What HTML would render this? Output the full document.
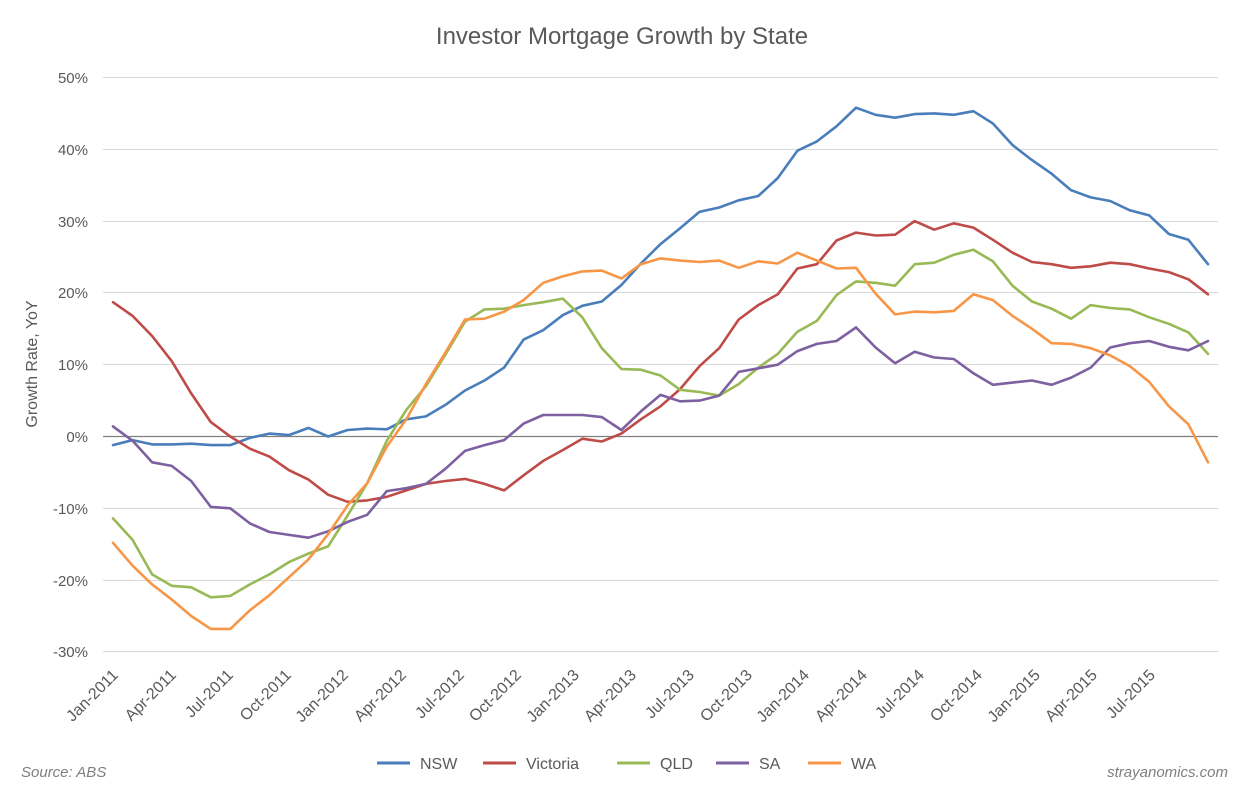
<!DOCTYPE html>
<html><head><meta charset="utf-8"><style>
body{margin:0;background:#fff;}
svg{display:block;font-family:"Liberation Sans",sans-serif;}
</style></head><body>
<svg id="c" width="1246" height="794" xmlns="http://www.w3.org/2000/svg">
<text x="622" y="44" text-anchor="middle" font-size="24" fill="#595959">Investor Mortgage Growth by State</text>
<g stroke="#d9d9d9" stroke-width="1">
<line x1="103" x2="1218" y1="77.5" y2="77.5"/>
<line x1="103" x2="1218" y1="149.5" y2="149.5"/>
<line x1="103" x2="1218" y1="221.5" y2="221.5"/>
<line x1="103" x2="1218" y1="292.5" y2="292.5"/>
<line x1="103" x2="1218" y1="364.5" y2="364.5"/>
<line x1="103" x2="1218" y1="508.5" y2="508.5"/>
<line x1="103" x2="1218" y1="580.5" y2="580.5"/>
<line x1="103" x2="1218" y1="651.5" y2="651.5"/>
</g>
<line x1="103" x2="1218" y1="436.5" y2="436.5" stroke="#7f7f7f" stroke-width="1.3"/>
<g font-size="15" fill="#595959" text-anchor="end">
<text x="88" y="83">50%</text><text x="88" y="155">40%</text><text x="88" y="227">30%</text>
<text x="88" y="298">20%</text><text x="88" y="370">10%</text><text x="88" y="442">0%</text>
<text x="88" y="514">-10%</text><text x="88" y="586">-20%</text><text x="88" y="657">-30%</text>
</g>
<text transform="translate(37,364) rotate(-90)" text-anchor="middle" font-size="16" fill="#595959">Growth Rate, YoY</text>
<g font-size="16" fill="#595959" text-anchor="end">
<text transform="translate(119,676) rotate(-45)">Jan-2011</text>
<text transform="translate(177,676) rotate(-45)">Apr-2011</text>
<text transform="translate(234,676) rotate(-45)">Jul-2011</text>
<text transform="translate(292,676) rotate(-45)">Oct-2011</text>
<text transform="translate(349,676) rotate(-45)">Jan-2012</text>
<text transform="translate(407,676) rotate(-45)">Apr-2012</text>
<text transform="translate(465,676) rotate(-45)">Jul-2012</text>
<text transform="translate(522,676) rotate(-45)">Oct-2012</text>
<text transform="translate(580,676) rotate(-45)">Jan-2013</text>
<text transform="translate(637,676) rotate(-45)">Apr-2013</text>
<text transform="translate(695,676) rotate(-45)">Jul-2013</text>
<text transform="translate(753,676) rotate(-45)">Oct-2013</text>
<text transform="translate(810,676) rotate(-45)">Jan-2014</text>
<text transform="translate(868,676) rotate(-45)">Apr-2014</text>
<text transform="translate(925,676) rotate(-45)">Jul-2014</text>
<text transform="translate(983,676) rotate(-45)">Oct-2014</text>
<text transform="translate(1041,676) rotate(-45)">Jan-2015</text>
<text transform="translate(1098,676) rotate(-45)">Apr-2015</text>
<text transform="translate(1156,676) rotate(-45)">Jul-2015</text>
</g>
<g id="series" fill="none" stroke-width="2.6" stroke-linejoin="round" stroke-linecap="round"></g>
<g font-size="16" fill="#595959">
<line x1="377" x2="410" y1="763" y2="763" stroke="#4a7ebb" stroke-width="3"/><text x="420" y="769">NSW</text>
<line x1="483" x2="516" y1="763" y2="763" stroke="#be4b48" stroke-width="3"/><text x="526" y="769">Victoria</text>
<line x1="617" x2="650" y1="763" y2="763" stroke="#98b954" stroke-width="3"/><text x="660" y="769">QLD</text>
<line x1="716" x2="749" y1="763" y2="763" stroke="#7d60a0" stroke-width="3"/><text x="759" y="769">SA</text>
<line x1="808" x2="841" y1="763" y2="763" stroke="#f79646" stroke-width="3"/><text x="851" y="769">WA</text>
</g>
<text x="21" y="777" font-size="15" font-style="italic" fill="#7f7f7f">Source: ABS</text>
<text x="1228" y="777" font-size="15" font-style="italic" fill="#7f7f7f" text-anchor="end">strayanomics.com</text>
</svg>
<script>
var S=[
["#4a7ebb",[-1.2,-0.5,-1.1,-1.1,-1.0,-1.2,-1.2,-0.2,0.4,0.2,1.2,0.0,0.9,1.1,1.0,2.4,2.8,4.4,6.4,7.8,9.6,13.5,14.8,16.9,18.2,18.8,21.1,24.1,26.8,29.0,31.3,31.9,32.9,33.5,36.0,39.8,41.1,43.2,45.8,44.8,44.4,44.9,45.0,44.8,45.3,43.6,40.6,38.5,36.6,34.3,33.3,32.8,31.5,30.8,28.2,27.4,24.0]],
["#be4b48",[18.7,16.8,14.0,10.5,6.0,2.0,0.0,-1.7,-2.8,-4.7,-6.0,-8.1,-9.1,-8.9,-8.4,-7.5,-6.6,-6.2,-5.9,-6.6,-7.5,-5.4,-3.4,-1.9,-0.3,-0.7,0.4,2.4,4.2,6.6,9.8,12.3,16.3,18.3,19.8,23.4,24.0,27.3,28.4,28.0,28.1,30.0,28.8,29.7,29.1,27.4,25.6,24.3,24.0,23.5,23.7,24.2,24.0,23.4,22.9,21.9,19.8]],
["#98b954",[-11.4,-14.4,-19.2,-20.8,-21.0,-22.4,-22.2,-20.6,-19.2,-17.5,-16.3,-15.3,-11.0,-6.5,-0.6,3.7,7.0,11.4,16.0,17.7,17.8,18.3,18.7,19.2,16.6,12.3,9.4,9.3,8.5,6.5,6.2,5.7,7.3,9.6,11.5,14.6,16.1,19.7,21.6,21.4,21.0,24.0,24.2,25.3,26.0,24.4,21.0,18.8,17.8,16.4,18.3,17.9,17.7,16.6,15.7,14.5,11.5]],
["#7d60a0",[1.4,-0.6,-3.6,-4.1,-6.2,-9.8,-10.0,-12.1,-13.3,-13.7,-14.1,-13.2,-11.9,-10.9,-7.6,-7.2,-6.6,-4.5,-2.0,-1.2,-0.5,1.8,3.0,3.0,3.0,2.7,0.9,3.5,5.8,4.9,5.0,5.7,9.0,9.5,10.0,11.9,12.9,13.3,15.2,12.4,10.2,11.8,11.0,10.8,8.8,7.2,7.5,7.8,7.2,8.2,9.6,12.4,13.0,13.3,12.5,12.0,13.3]],
["#f79646",[-14.8,-18.0,-20.6,-22.7,-25.0,-26.8,-26.8,-24.2,-22.1,-19.6,-17.1,-13.6,-9.6,-6.5,-1.4,2.4,7.3,11.7,16.3,16.4,17.4,19.0,21.4,22.3,23.0,23.1,22.0,24.0,24.8,24.5,24.3,24.5,23.5,24.4,24.1,25.6,24.5,23.4,23.5,19.9,17.0,17.4,17.3,17.5,19.8,19.0,16.8,15.0,13.0,12.9,12.3,11.3,9.8,7.6,4.2,1.7,-3.6]]];
var g=document.getElementById('series'),h='';
S.forEach(function(s){var v=s[1],n=v.length,st=(1208-113)/(n-1),p=[];
v.forEach(function(d,i){p.push((113+i*st).toFixed(1)+','+(436.5-d*7.18).toFixed(1));});
h+='<polyline stroke="'+s[0]+'" points="'+p.join(' ')+'"/>';});
g.innerHTML=h;
</script>
</body></html>
